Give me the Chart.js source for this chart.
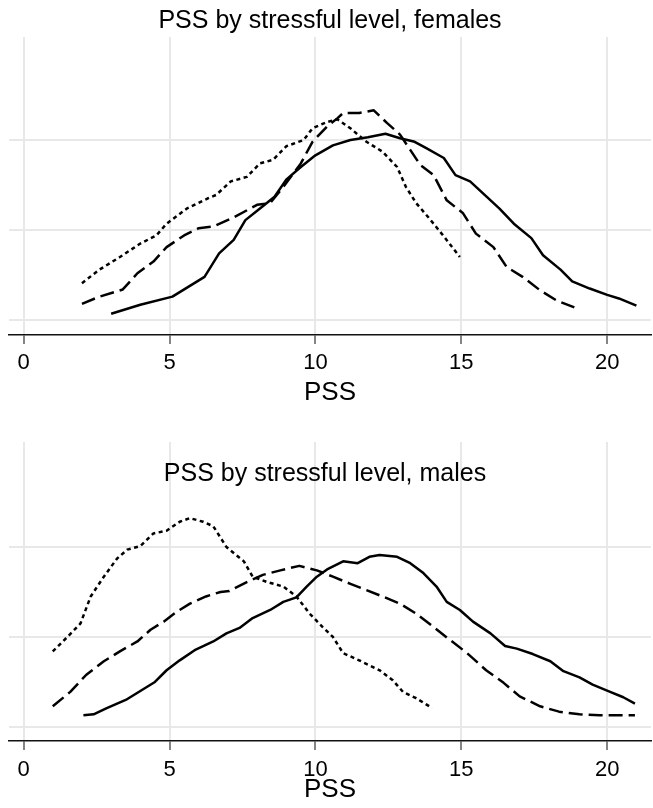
<!DOCTYPE html>
<html>
<head>
<meta charset="utf-8">
<script src="https://cdn.jsdelivr.net/npm/chart.js@4.4.1/dist/chart.umd.min.js"></script>
<style>
  body { margin: 0; background: #fff; }
  #wrap { position: relative; width: 653px; height: 808px; overflow: hidden; }
  canvas { position: absolute; left: 0; }
</style>
</head>
<body>
<div id="wrap">
  <canvas id="femalesChart" width="653" height="410" style="top:0"></canvas>
  <canvas id="malesChart" width="653" height="408" style="top:400px"></canvas>
</div>
<script>
// x axis ticks and y gridlines
const xTicks = [0, 5, 10, 15, 20];
const yGrid = [0, 0.05, 0.1];

// Females - solid line
const femSolidX = [3.0, 4.0, 5.1, 6.2, 6.7, 7.2, 7.6, 8.1, 8.6, 9.0, 9.5, 10.0, 10.6, 11.2, 11.8, 12.4, 12.9, 13.4, 13.8, 14.4, 14.8, 15.3, 15.8, 16.3, 16.8, 17.4, 17.8, 18.4, 18.8, 19.4, 20.0, 20.4, 21.0];
const femSolidY = [0.0035, 0.0085, 0.013, 0.024, 0.037, 0.0445, 0.0555, 0.062, 0.0685, 0.078, 0.085, 0.0915, 0.097, 0.1, 0.1015, 0.1035, 0.101, 0.099, 0.0955, 0.09, 0.0805, 0.077, 0.0695, 0.062, 0.0535, 0.0455, 0.036, 0.028, 0.0215, 0.0175, 0.014, 0.012, 0.008];

// Females - long dash
const femDashX = [2.0, 2.6, 3.4, 3.9, 4.45, 4.9, 5.5, 6.0, 6.5, 7.2, 8.0, 8.45, 8.9, 9.5, 9.9, 10.4, 10.75, 10.95, 11.5, 12.0, 12.45, 12.9, 13.25, 13.6, 14.05, 14.5, 15.05, 15.5, 16.1, 16.55, 17.1, 17.7, 18.25, 18.95];
const femDashY = [0.009, 0.013, 0.017, 0.026, 0.0325, 0.0405, 0.047, 0.051, 0.052, 0.057, 0.064, 0.065, 0.074, 0.087, 0.099, 0.1075, 0.112, 0.115, 0.115, 0.1165, 0.1095, 0.103, 0.0945, 0.086, 0.0805, 0.0665, 0.0595, 0.048, 0.0405, 0.0295, 0.024, 0.0165, 0.011, 0.0065];

// Females - dotted
const femDotX = [2.0, 2.6, 3.3, 4.0, 4.55, 4.9, 5.6, 6.3, 6.6, 7.1, 7.65, 8.1, 8.55, 9.0, 9.6, 9.9, 10.4, 10.75, 11.2, 11.75, 12.3, 12.8, 13.1, 13.45, 13.9, 14.4, 14.95];
const femDotY = [0.0205, 0.028, 0.035, 0.0425, 0.047, 0.0535, 0.062, 0.0675, 0.0695, 0.077, 0.0795, 0.087, 0.089, 0.0965, 0.1, 0.1065, 0.11, 0.1115, 0.1065, 0.099, 0.0935, 0.085, 0.074, 0.065, 0.0565, 0.0465, 0.035];

// Males - solid line
const maleSolidX = [2.05, 2.4, 2.85, 3.5, 4.0, 4.5, 4.9, 5.35, 5.9, 6.5, 6.95, 7.4, 7.85, 8.45, 8.9, 9.35, 9.7, 10.05, 10.4, 10.95, 11.45, 11.85, 12.2, 12.8, 13.25, 13.7, 14.15, 14.5, 14.95, 15.4, 16.0, 16.5, 16.9, 17.45, 18.05, 18.5, 19.05, 19.5, 20.1, 20.55, 20.95];
const maleSolidY = [0.0065, 0.007, 0.0105, 0.015, 0.02, 0.025, 0.0315, 0.037, 0.043, 0.0475, 0.052, 0.055, 0.0605, 0.065, 0.0695, 0.072, 0.078, 0.0835, 0.0875, 0.092, 0.091, 0.0945, 0.0955, 0.0945, 0.091, 0.0855, 0.078, 0.0695, 0.065, 0.0585, 0.052, 0.045, 0.0435, 0.0405, 0.0365, 0.031, 0.0275, 0.0235, 0.0195, 0.0165, 0.013];

// Males - long dash
const maleDashX = [1.0, 1.6, 2.15, 2.75, 3.3, 3.9, 4.35, 4.8, 5.25, 5.7, 6.25, 6.75, 7.05, 7.65, 8.2, 8.8, 9.45, 10.05, 10.6, 11.2, 11.75, 12.3, 12.9, 13.45, 14.05, 14.6, 15.2, 15.85, 16.45, 17.0, 17.7, 18.35, 19.05, 19.75, 20.95];
const maleDashY = [0.0115, 0.0195, 0.029, 0.0365, 0.042, 0.0475, 0.054, 0.0585, 0.064, 0.0685, 0.0725, 0.075, 0.0755, 0.0805, 0.0845, 0.087, 0.0895, 0.087, 0.0835, 0.0795, 0.076, 0.0725, 0.0685, 0.063, 0.0555, 0.0485, 0.041, 0.0315, 0.0245, 0.017, 0.0115, 0.0085, 0.007, 0.0065, 0.0065];

// Males - dotted
const maleDotX = [1.0, 1.5, 1.95, 2.3, 2.75, 3.2, 3.55, 4.0, 4.45, 4.9, 5.35, 5.7, 6.15, 6.5, 6.95, 7.55, 7.85, 8.35, 8.9, 9.35, 9.8, 10.25, 10.6, 10.95, 11.5, 12.2, 12.65, 13.0, 13.45, 14.0];
const maleDotY = [0.042, 0.05, 0.0575, 0.0725, 0.0835, 0.0935, 0.0985, 0.1005, 0.1075, 0.109, 0.114, 0.116, 0.114, 0.1115, 0.1, 0.092, 0.0835, 0.0805, 0.078, 0.0725, 0.063, 0.0555, 0.05, 0.041, 0.037, 0.0315, 0.026, 0.0195, 0.016, 0.0105];

const fontFamily = "'Liberation Sans', Arial, Helvetica, sans-serif";
const gridColor = '#e8e8e8';

// title drawn inside the plot area (the males panel has it over the gridlines)
const innerTitle = {
    id: 'innerTitle',
    afterDraw(chart, args, opts) {
        if (!opts || !opts.text) return;
        const ctx = chart.ctx;
        ctx.save();
        ctx.font = `${opts.size}px ${fontFamily}`;
        ctx.fillStyle = '#000';
        ctx.textAlign = 'center';
        ctx.textBaseline = 'middle';
        ctx.fillText(opts.text, opts.x, opts.y);
        ctx.restore();
    }
};

function makeSeries(x, y, dash, label) {
    return {
        label: label,
        data: x.map((v, i) => ({ x: v, y: y[i] })),
        borderColor: '#000',
        borderWidth: 2.5,
        borderDash: dash,
        borderJoinStyle: 'round',
        pointRadius: 0,
        tension: 0,
        fill: false
    };
}

function buildChart(id, datasets, opts) {
    const ctx = document.getElementById(id).getContext('2d');
    return new Chart(ctx, {
        type: 'line',
        data: { datasets: datasets },
        options: {
            responsive: false,
            animation: false,
            devicePixelRatio: 1,
            layout: { padding: { left: 9, right: 2, top: opts.padTop, bottom: 0 } },
            plugins: {
                legend: { display: false },
                tooltip: { enabled: false },
                title: {
                    display: !!opts.title,
                    text: opts.title || '',
                    color: '#000',
                    font: { family: fontFamily, size: 25, weight: 'normal' },
                    padding: { top: 6, bottom: 1 }
                },
                innerTitle: opts.innerTitle || {}
            },
            scales: {
                x: {
                    type: 'linear',
                    min: -0.5,
                    max: 21.5,
                    afterBuildTicks: s => { s.ticks = xTicks.map(v => ({ value: v })); },
                    afterFit: s => { s.height = opts.xHeight; },
                    grid: { color: gridColor, lineWidth: 2, tickColor: '#333', tickLength: 9, tickWidth: 1.2 },
                    border: { color: '#111', width: 1.5 },
                    ticks: {
                        color: '#000',
                        font: { family: fontFamily, size: 22 },
                        padding: opts.tickPad,
                        maxRotation: 0
                    },
                    title: {
                        display: true,
                        text: 'PSS',
                        color: '#000',
                        font: { family: fontFamily, size: 26 },
                        padding: { top: 0, bottom: opts.titlePad }
                    }
                },
                y: {
                    type: 'linear',
                    min: opts.yMin,
                    max: opts.yMax,
                    afterBuildTicks: s => { s.ticks = yGrid.map(v => ({ value: v })); },
                    afterFit: s => { s.width = 0; },
                    grid: { color: gridColor, lineWidth: 2, drawTicks: false },
                    border: { display: false },
                    ticks: { display: false }
                }
            }
        },
        plugins: [innerTitle]
    });
}

buildChart('femalesChart', [
    makeSeries(femSolidX, femSolidY, [], 'Solid'),
    makeSeries(femDashX, femDashY, [14, 6], 'Dashed'),
    makeSeries(femDotX, femDotY, [4, 3.5], 'Dotted')
], {
    title: 'PSS by stressful level, females',
    padTop: 0,
    xHeight: 75,
    tickPad: 6,
    titlePad: 2,
    yMin: -0.0083,
    yMax: 0.1572
});

buildChart('malesChart', [
    makeSeries(maleSolidX, maleSolidY, [], 'Solid'),
    makeSeries(maleDashX, maleDashY, [14, 6], 'Dashed'),
    makeSeries(maleDotX, maleDotY, [4, 3.5], 'Dotted')
], {
    innerTitle: { text: 'PSS by stressful level, males', x: 325, y: 74, size: 25 },
    padTop: 42,
    xHeight: 67,
    tickPad: 7,
    titlePad: 2.4,
    yMin: -0.0078,
    yMax: 0.1583
});
</script>
</body>
</html>
